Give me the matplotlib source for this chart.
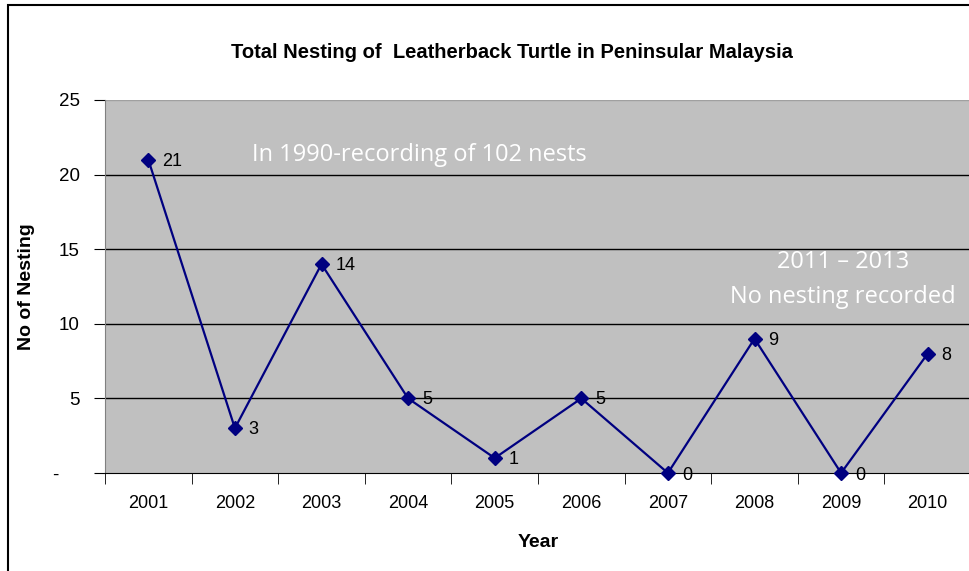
import matplotlib.pyplot as plt
from matplotlib.patches import Rectangle
from matplotlib.ticker import FixedLocator, FuncFormatter

years = ["2001", "2002", "2003", "2004", "2005", "2006", "2007", "2008", "2009", "2010"]
nests = [21, 3, 14, 5, 1, 5, 0, 9, 0, 8]
y_ticks = [0, 5, 10, 15, 20, 25]

NAVY = "#000080"


def main():
    plt.rcParams["font.family"] = ["Liberation Sans", "DejaVu Sans"]
    fig = plt.figure(figsize=(9.69, 5.71), dpi=100)
    ax = fig.add_axes([105 / 969, 1 - 473 / 571, 866 / 969, 373 / 571])
    ax.set_facecolor("#c0c0c0")

    x = list(range(len(years)))
    ax.plot(x, nests, color=NAVY, lw=1.6, marker="D", ms=7, mfc=NAVY, mec=NAVY,
            clip_on=False, zorder=3)
    for xi, v in zip(x, nests):
        dy = -2 if v == 0 else -1
        ax.annotate(str(v), (xi, v), xytext=(10, dy), textcoords="offset points",
                    ha="left", va="center", fontsize=13, zorder=4)

    ax.set_xlim(-0.5, len(years) - 0.5)
    ax.set_ylim(0, 25)
    ax.set_xticks(x)
    ax.set_xticklabels(years, fontsize=13)
    ax.xaxis.set_minor_locator(FixedLocator([i - 0.5 for i in range(len(years) + 1)]))
    ax.tick_params(axis="x", which="major", length=0, pad=16)
    ax.tick_params(axis="x", which="minor", length=8, direction="out", color="black")
    ax.set_yticks(y_ticks)
    ax.yaxis.set_major_formatter(FuncFormatter(lambda v, p: "-    " if v == 0 else "%d" % v))
    ax.tick_params(axis="y", length=8, direction="out", labelsize=13.5, pad=10)
    for v in y_ticks[1:-1]:
        ax.axhline(v, color="black", lw=1, zorder=1)
    ax.axhline(25, color="#a0a0a0", lw=1, zorder=1)

    for s in ["top", "right"]:
        ax.spines[s].set_visible(False)
    ax.spines["left"].set_color("#808080")
    ax.spines["bottom"].set_color("black")

    ax.set_xlabel("Year", fontsize=14, fontweight="bold", labelpad=16)
    ax.set_ylabel("No of Nesting", fontsize=14, fontweight="bold", labelpad=13)
    fig.text(512 / 969, 1 - 53 / 571, "Total Nesting of  Leatherback Turtle in Peninsular Malaysia",
             ha="center", va="center", fontsize=14.5, fontweight="bold")

    white = dict(transform=fig.transFigure, ha="center", va="center", color="white",
                 fontsize=17, family=["Open Sans", "DejaVu Sans"])
    ax.text(419 / 969, 1 - 155 / 571, "In 1990-recording of 102 nests", **white)
    ax.text(843 / 969, 1 - 262 / 571, "2011 \u2013 2013", **white)
    ax.text(843 / 969, 1 - 297 / 571, "No nesting recorded", **white)

    fig.patches.append(Rectangle((8 / 969, -0.05), 1.1, 1 - 5 / 571 + 0.05, transform=fig.transFigure,
                                 fill=False, ec="black", lw=1.5))

    fig.savefig("out.png", dpi=100)


if __name__ == '__main__':
    main()
